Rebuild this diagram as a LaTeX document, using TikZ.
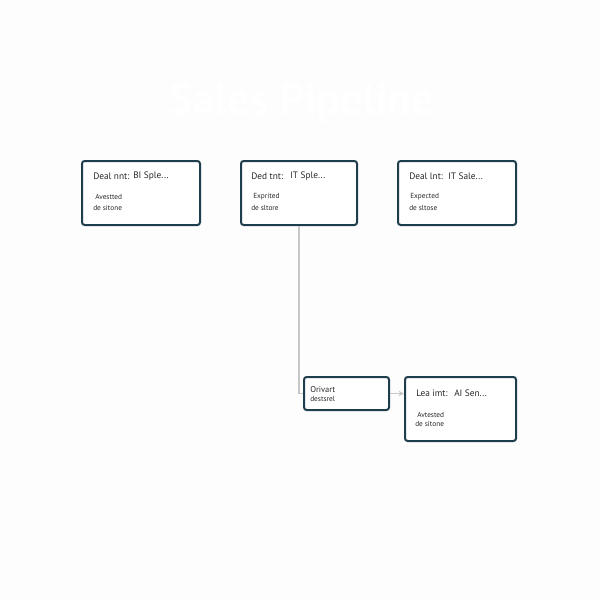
\documentclass[tikz,border=0pt]{standalone}
\usepackage{fontspec}
\setmainfont{PT Sans}
\usetikzlibrary{arrows.meta}
\definecolor{boxline}{RGB}{30,62,78}
\definecolor{paper}{RGB}{253,253,253}
\definecolor{txt}{RGB}{40,40,40}

\begin{document}
\begin{tikzpicture}[x=0.75pt, y=-0.75pt,
	dealbox/.style={draw=boxline, line width=1.5pt, rounded corners=2pt, fill=white, inner sep=0pt},
	head/.style={anchor=west, text=txt, font=\fontsize{7}{8}\selectfont, inner sep=0pt},
	sub/.style={anchor=west, text=txt, font=\fontsize{5.5}{6}\selectfont, inner sep=0pt},
	link/.style={draw=black!22, line width=0.8pt}]
	\fill[paper] (0,0) rectangle (600,600);
	\useasboundingbox (0,0) rectangle (600,600);
	\node[text=white, font=\fontsize{33}{36}\selectfont\bfseries] (title) at (302,103) {Sales Pipeline};

	\node[dealbox, minimum width=88.5pt, minimum height=48pt] (deal1) at (141,193) {};
	\node[dealbox, minimum width=87pt, minimum height=48pt] (deal2) at (299,193) {};
	\node[dealbox, minimum width=88.5pt, minimum height=48pt] (deal3) at (457,193) {};
	\node[dealbox, minimum width=63.75pt, minimum height=24.75pt] (pivot) at (346.5,393.5) {};
	\node[dealbox, minimum width=83.25pt, minimum height=48pt] (deal4) at (460.5,409) {};

	\node[head] (d1a) at (93,176) {Deal nnt:};
	\node[head] (d1b) at (133,176) {BI Sple...};
	\node[sub] (d1c) at (95,197) {Avestted};
	\node[sub] (d1d) at (93,208) {de sitone};

	\node[head] (d2a) at (251,176) {Ded tnt:};
	\node[head] (d2b) at (290,176) {IT Sple...};
	\node[sub] (d2c) at (253,197) {Exprited};
	\node[sub] (d2d) at (251,208) {de sltore};

	\node[head] (d3a) at (409,176) {Deal lnt:};
	\node[head] (d3b) at (448,176) {IT Sale...};
	\node[sub] (d3c) at (410,197) {Expected};
	\node[sub] (d3d) at (409,208) {de sltose};

	\node[sub, font=\fontsize{6.3}{7}\selectfont] (p1) at (310,390) {Orivart};
	\node[sub] (p2) at (310,399) {destsrel};

	\node[head] (d4a) at (416,393) {Lea imt:};
	\node[head] (d4b) at (454,393) {AI Sen...};
	\node[sub] (d4c) at (417,415) {Avtested};
	\node[sub] (d4d) at (415,424) {de sitone};

	\draw[link] (deal2.south) |- (pivot.west);
	\draw[link, -{Stealth[length=4pt, width=4pt]}] (pivot.east) -- (pivot.east -| deal4.west);
\end{tikzpicture}
\end{document}
